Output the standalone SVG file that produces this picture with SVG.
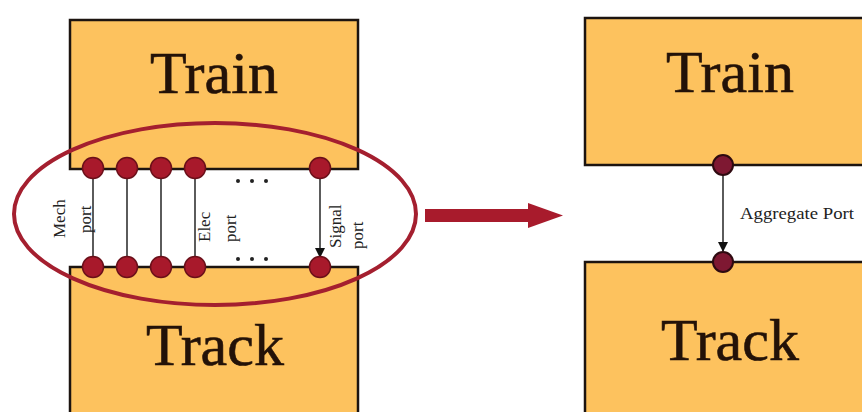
<svg xmlns="http://www.w3.org/2000/svg" width="862" height="412" viewBox="0 0 862 412">
<defs>
<style>
.box{fill:#fdc25e;stroke:#1c1410;stroke-width:2.5}
.big{font-family:"Liberation Serif",serif;font-size:60px;fill:#231208;stroke:#231208;stroke-width:0.6;text-anchor:middle}
.lbl{font-family:"Liberation Serif",serif;font-size:17px;fill:#222}
.port{fill:#a8192b;stroke:#6b0f19;stroke-width:1.5}
.port2{fill:#7e1832;stroke:#2e0a10;stroke-width:2}
.conn{stroke:#333;stroke-width:1.6;fill:none}
</style>
<marker id="ah" markerWidth="10" markerHeight="10" refX="9" refY="5" orient="auto" markerUnits="userSpaceOnUse">
<path d="M0,0 L10,5 L0,10 Z" fill="#111"/>
</marker>
</defs>
<rect width="862" height="412" fill="#fff"/>

<g id="train-left">
<rect class="box" x="70" y="20" width="288" height="149"/>
<text class="big" x="214" y="93">Train</text>
</g>
<g id="track-left">
<rect class="box" x="70" y="267" width="288" height="160"/>
<text class="big" x="215" y="365">Track</text>
</g>
<g id="train-right">
<rect class="box" x="585" y="18" width="300" height="147"/>
<text class="big" x="730" y="92">Train</text>
</g>
<g id="track-right">
<rect class="box" x="585" y="262" width="300" height="165"/>
<text class="big" x="730" y="360">Track</text>
</g>

<g id="connectors">
<line class="conn" x1="93" y1="168" x2="93" y2="267"/>
<line class="conn" x1="127" y1="168" x2="127" y2="267"/>
<line class="conn" x1="161" y1="168" x2="161" y2="267"/>
<line class="conn" x1="195" y1="168" x2="195" y2="267"/>
<line class="conn" x1="320" y1="178" x2="320" y2="257" marker-end="url(#ah)"/>
<line class="conn" x1="723" y1="175" x2="723" y2="251" marker-end="url(#ah)"/>
</g>

<g id="ports-left">
<circle class="port" cx="93" cy="168" r="10.5"/>
<circle class="port" cx="127" cy="168" r="10.5"/>
<circle class="port" cx="161" cy="168" r="10.5"/>
<circle class="port" cx="195" cy="168" r="10.5"/>
<circle class="port" cx="320" cy="168" r="10.5"/>
<circle class="port" cx="93" cy="267" r="10.5"/>
<circle class="port" cx="127" cy="267" r="10.5"/>
<circle class="port" cx="161" cy="267" r="10.5"/>
<circle class="port" cx="195" cy="267" r="10.5"/>
<circle class="port" cx="320" cy="267" r="10.5"/>
</g>
<g id="dots" fill="#222">
<circle cx="238" cy="181" r="2"/><circle cx="252" cy="181" r="2"/><circle cx="266" cy="181" r="2"/>
<circle cx="238" cy="259" r="2"/><circle cx="252" cy="259" r="2"/><circle cx="266" cy="259" r="2"/>
</g>
<g id="ports-right">
<circle class="port2" cx="723" cy="165" r="10"/>
<circle class="port2" cx="723" cy="262" r="10"/>
</g>

<g id="labels">
<text class="lbl" transform="translate(65,238) rotate(-90)">Mech</text>
<text class="lbl" transform="translate(91,233) rotate(-90)">port</text>
<text class="lbl" transform="translate(210,242) rotate(-90)">Elec</text>
<text class="lbl" transform="translate(236,242) rotate(-90)">port</text>
<text class="lbl" transform="translate(341,248) rotate(-90)">Signal</text>
<text class="lbl" transform="translate(363,249) rotate(-90)">port</text>
<text class="lbl" x="740" y="219" textLength="114" lengthAdjust="spacingAndGlyphs">Aggregate Port</text>
</g>

<g id="highlight">
<ellipse cx="215" cy="214" rx="201" ry="91" fill="none" stroke="#a41f2f" stroke-width="4"/>
</g>
<g id="transform-arrow" fill="#a81b2c">
<rect x="425" y="209" width="105" height="13"/>
<path d="M528,203 L563,215.5 L528,228 Z"/>
</g>
</svg>
